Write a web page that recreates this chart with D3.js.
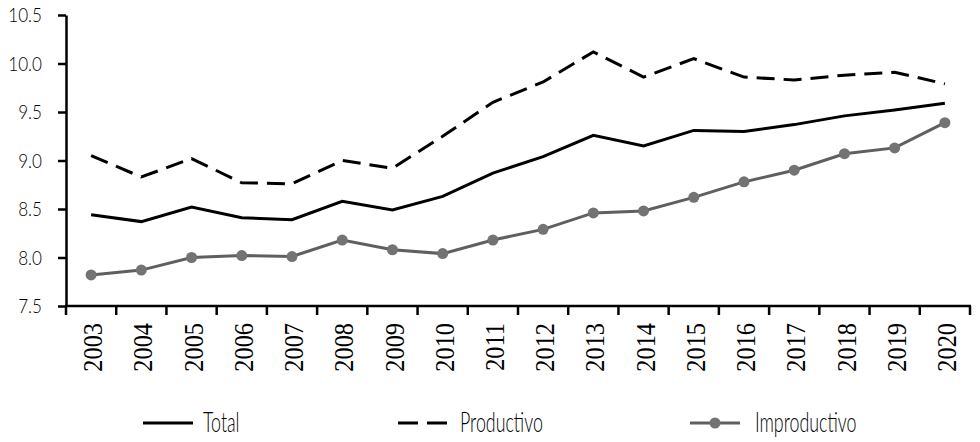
<!DOCTYPE html>
<html><head><meta charset="utf-8">
<script src="https://cdn.jsdelivr.net/npm/d3@7"></script>
<style>body{margin:0;background:#fff}svg{display:block}</style>
</head><body>
<svg id="c" width="980" height="442"></svg>
<script>
const years = ["2003","2004","2005","2006","2007","2008","2009","2010","2011","2012","2013","2014","2015","2016","2017","2018","2019","2020"];
const total = [8.44,8.37,8.52,8.41,8.39,8.58,8.49,8.63,8.87,9.04,9.26,9.15,9.31,9.30,9.37,9.46,9.52,9.59];
const productivo = [9.05,8.83,9.02,8.77,8.76,9.00,8.92,9.25,9.60,9.81,10.12,9.86,10.05,9.86,9.83,9.88,9.91,9.79];
const improductivo = [7.82,7.87,8.00,8.02,8.01,8.18,8.08,8.04,8.18,8.29,8.46,8.48,8.62,8.78,8.90,9.07,9.13,9.39];
const yTicks = [7.5,8.0,8.5,9.0,9.5,10.0,10.5];
const seriesNames = ["Total","Productivo","Improductivo"];

const svg = d3.select("#c");
const L = 66, R = 970, T = 15, B = 306;
const x = d3.scaleBand().domain(years).range([L, R]);
const y = d3.scaleLinear().domain([7.5, 10.5]).range([B, T]);
const lightFont = "Lato, 'Liberation Sans', Arial, sans-serif";

// Y axis
const ya = svg.append("g").attr("transform", `translate(${L},0)`)
  .call(d3.axisLeft(y).tickValues(yTicks).tickFormat(d3.format(".1f")).tickSize(8).tickSizeOuter(0));
ya.select(".domain").attr("stroke","#000").attr("stroke-width",2.5);
ya.selectAll(".tick line").attr("stroke","#000").attr("stroke-width",2.5);
ya.selectAll(".tick text").attr("x",0).attr("dy","0.36em")
  .attr("transform","translate(-24,0) scale(0.9,1)")
  .style("font-family",lightFont).style("font-weight","300").style("font-size","19px").attr("fill","#000");

// X axis
const xa = svg.append("g").attr("transform", `translate(0,${B})`)
  .call(d3.axisBottom(x).tickSize(0).tickSizeOuter(0));
xa.select(".domain").attr("stroke","#000").attr("stroke-width",2.5).attr("d",`M${L-1},0H${R+1}`);
xa.selectAll(".tick text")
  .attr("text-anchor","end")
  .attr("transform","translate(1,17) rotate(-90) scale(0.87,1)")
  .attr("x",0).attr("y",0).attr("dy","0.36em")
  .style("font-family","'Liberation Serif', 'Times New Roman', serif").style("font-size","28px").attr("fill","#000");
// boundary ticks
const bounds = d3.range(years.length + 1).map(i => x.range()[0] + i * x.step());
svg.append("g").selectAll("line").data(bounds).join("line")
  .attr("x1", d => d).attr("x2", d => d).attr("y1", B).attr("y2", B + 9)
  .attr("stroke","#000").attr("stroke-width",2.5);

const cx = d => x(d) + x.bandwidth()/2;
const line = d3.line().x((d,i) => cx(years[i])).y(d => y(d));

svg.append("path").datum(productivo).attr("d", line).attr("fill","none")
  .attr("stroke","#000").attr("stroke-width",3).attr("stroke-dasharray","18,9");
svg.append("path").datum(total).attr("d", line).attr("fill","none")
  .attr("stroke","#000").attr("stroke-width",3);
svg.append("path").datum(improductivo).attr("d", line).attr("fill","none")
  .attr("stroke","#5f5f5f").attr("stroke-width",3);
svg.append("g").selectAll("circle").data(improductivo).join("circle")
  .attr("cx",(d,i) => cx(years[i])).attr("cy", d => y(d)).attr("r",5.5).attr("fill","#737373");

// Legend
const leg = [
  {name: seriesNames[0], x0: 143, tx: 203, stroke:"#000", dash:null, dot:false},
  {name: seriesNames[1], x0: 398, tx: 460, stroke:"#000", dash:"20,9", dot:false},
  {name: seriesNames[2], x0: 690, tx: 755, stroke:"#5f5f5f", dash:null, dot:true}
];
const ly = 423;
const lg = svg.append("g");
leg.forEach(l => {
  lg.append("line").attr("x1", l.x0).attr("x2", l.x0 + 50).attr("y1", ly).attr("y2", ly)
    .attr("stroke", l.stroke).attr("stroke-width",3).attr("stroke-dasharray", l.dash);
  if (l.dot) lg.append("circle").attr("cx", l.x0 + 25).attr("cy", ly).attr("r",5.5).attr("fill","#737373");
  lg.append("text").attr("transform", `translate(${l.tx},${ly+9}) scale(0.66,1)`)
    .style("font-family",lightFont).style("font-weight","300").style("font-size","27px").attr("fill","#000")
    .text(l.name);
});
</script>
</body></html>
